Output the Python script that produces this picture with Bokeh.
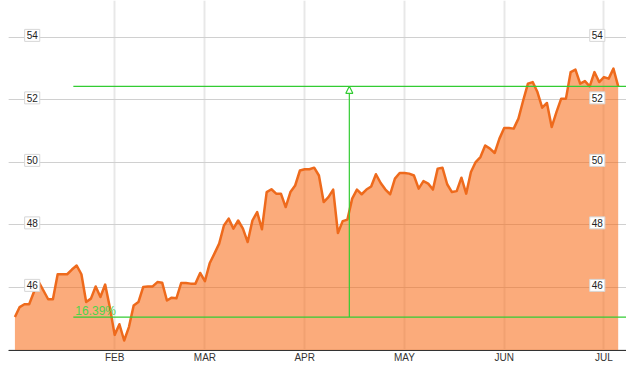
from bokeh.plotting import figure
from bokeh.models import (FixedTicker, Grid, ColumnDataSource, Label,
                          Arrow, NormalHead, Range1d)
from bokeh.core.properties import value
from bokeh.embed import file_html
from bokeh.resources import INLINE

# ---- data (daily closing prices, trading days) ----
prices = [
    45.05, 45.37, 45.46, 45.46, 45.85, 46.18, 45.90, 45.62, 45.62, 46.42,
    46.42, 46.42, 46.57, 46.70, 46.42, 45.53, 45.64, 46.03, 45.69, 46.09,
    45.35, 44.48, 44.82, 44.30, 44.73, 45.42, 45.53, 46.01, 46.03, 46.03,
    46.17, 46.15, 45.58, 45.67, 45.65, 46.14, 46.14, 46.12, 46.12, 46.46,
    46.20, 46.77, 47.08, 47.40, 47.98, 48.20, 47.88, 48.14, 47.88, 47.45,
    48.14, 48.41, 47.86, 49.05, 49.14, 49.00, 49.00, 48.57, 49.05, 49.26,
    49.74, 49.78, 49.78, 49.83, 49.58, 48.73, 48.89, 49.13, 47.74, 48.12,
    48.17, 48.84, 49.13, 48.98, 49.13, 49.23, 49.62, 49.34, 49.13, 48.98,
    49.48, 49.66, 49.66, 49.64, 49.58, 49.16, 49.40, 49.32, 49.13, 49.80,
    49.83, 49.30, 49.05, 49.08, 49.51, 49.00, 49.69, 50.01, 50.17, 50.54,
    50.44, 50.30, 50.76, 51.10, 51.10, 51.08, 51.40, 51.98, 52.52, 52.57,
    52.25, 51.75, 51.90, 51.13, 51.61, 52.04, 52.04, 52.89, 52.97, 52.52,
    52.60, 52.43, 52.89, 52.57, 52.73, 52.68, 53.00, 52.434,
]
day_index = list(range(len(prices)))

# first trading day of each month (index) and labels
month_index = [21, 40, 61, 82, 103, 124]
month_labels = ["FEB", "MAR", "APR", "MAY", "JUN", "JUL"]

y_ticks = [46, 48, 50, 52, 54]
y_tick_labels = [str(t) for t in y_ticks]

# ---- styling ----
LINE = "#EE6A1C"
FILL = "#F86A14"
GREEN = "#33cc33"
TEXT_GREEN = "#4cd44c"
FONT = "Liberation Sans"

p = figure(width=626, height=365,
           x_range=Range1d(-1.35, 128.75), y_range=Range1d(43.98, 55.18),
           output_backend="svg", toolbar_location=None, y_axis_location=None,
           min_border_left=8, min_border_right=0, min_border_top=0,
           min_border_bottom=15)
p.outline_line_color = None
p.background_fill_color = "white"
p.border_fill_color = "white"

# grids
p.xgrid.ticker = FixedTicker(ticks=month_index)
p.xgrid.grid_line_color = "#e8e8e8"
p.xgrid.grid_line_width = 2
p.add_layout(Grid(dimension=1, ticker=FixedTicker(ticks=y_ticks),
                  grid_line_color="#d0d0d0", grid_line_width=1))

# x axis
ax = p.xaxis[0]
ax.ticker = FixedTicker(ticks=month_index)
ax.major_label_overrides = {i: l for i, l in zip(month_index, month_labels)}
ax.major_tick_line_color = None
ax.minor_tick_line_color = None
ax.major_tick_out = 0
ax.major_tick_in = 0
ax.minor_tick_out = 0
ax.minor_tick_in = 0
ax.axis_line_color = "#333333"
ax.axis_line_width = 1
ax.major_label_text_font = FONT
ax.major_label_text_font_size = "10px"
ax.major_label_text_color = "#333333"
ax.major_label_standoff = 1

# area + line
base = [40] * len(prices)
p.varea(x=day_index, y1=base, y2=prices, fill_color=FILL, fill_alpha=0.56)
p.line(day_index, prices, line_color=LINE, line_width=2.5, line_join="round")

# measurement overlay (first close -> last close)
first, last = prices[0], prices[-1]
pct = f"{(last / first - 1) * 100:.2f}%"
measure_x0 = 12.3
arrow_x = 70.4
p.segment(x0=[measure_x0, measure_x0], y0=[first, last],
          x1=[135, 135], y1=[first, last], line_color=GREEN, line_width=1.2)
p.add_layout(Arrow(end=NormalHead(size=7, fill_color="white", line_color=GREEN,
                                  line_width=1.2),
                   x_start=arrow_x, y_start=first, x_end=arrow_x, y_end=last,
                   line_color=GREEN, line_width=1.2))
p.add_layout(Label(x=measure_x0, y=first, text=pct, x_offset=2, y_offset=6,
                   text_baseline="alphabetic", text_color=TEXT_GREEN,
                   text_font=FONT, text_font_size="12px"))

# boxed y tick labels on both sides
label_lift = 2 / 31.25  # boxes sit ~2px above their grid line
src = ColumnDataSource(dict(y=[t + label_lift for t in y_ticks], text=y_tick_labels,
                            xl=[3.64] * len(y_ticks), xr=[122.6] * len(y_ticks)))
for xcol in ("xl", "xr"):
    p.text(x=xcol, y="y", text="text", source=src,
           text_align="center", text_baseline="middle",
           text_font=value(FONT), text_font_size="10px",
           text_color="#222222", background_fill_color="white",
           border_line_color="#d6d6d6", border_line_width=1,
           padding=2, level="annotation")

open("out.html", "w").write(file_html(p, INLINE))
